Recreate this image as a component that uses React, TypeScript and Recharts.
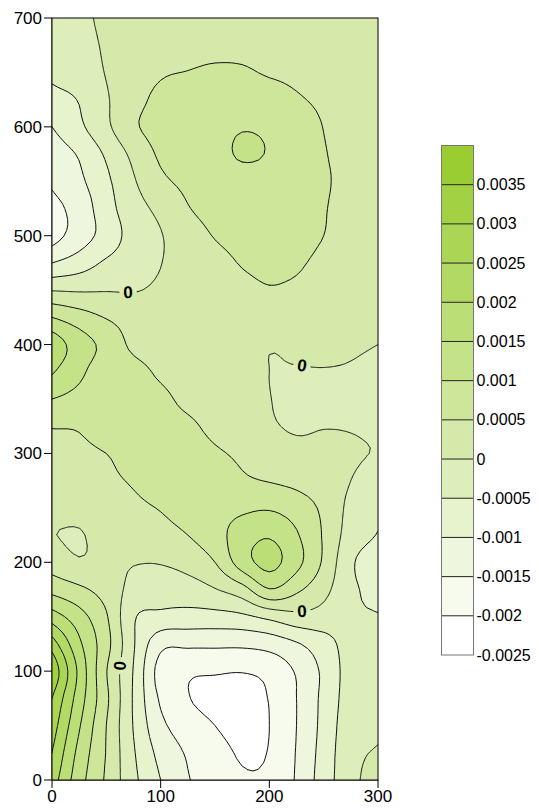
import React from 'react'
import { ScatterChart, Scatter, XAxis, YAxis } from 'recharts'

// measured grid nodes (plot units)
const gridX = [0, 25, 50, 75, 100, 125, 150, 175, 200, 225, 250, 275, 300]
const gridY = [0, 25, 50, 75, 100, 125, 150, 175, 200, 225, 250, 275, 300, 325, 350, 375, 400, 425, 450, 475, 500, 525, 550, 575, 600, 625, 650, 675, 700]

// field values on the grid, one row per gridY entry, in multiples of LEVEL_STEP
const LEVEL_STEP = 0.0005
const field = [
  [4.5, 2.4, 0.85, -0.75, -2.0, -2.95, -3.3, -3.85, -3.8, -2.9, -1.5, -0.3, 0.5],
  [5.0, 2.7, 0.95, -0.9, -2.3, -3.1, -3.5, -4.15, -3.95, -2.95, -1.6, -0.3, 0.1],
  [5.5, 3.1, 1.0, -1.05, -2.75, -3.5, -4.0, -4.5, -4.0, -3.0, -1.7, -0.4, -0.2],
  [6.0, 3.5, 1.2, -1.1, -3.15, -3.95, -4.3, -4.55, -3.95, -3.0, -1.75, -0.55, -0.4],
  [6.8, 3.75, 1.05, -1.05, -3.4, -3.85, -3.9, -3.95, -3.7, -2.9, -1.8, -0.6, -0.5],
  [5.5, 3.2, 1.35, -0.9, -2.7, -2.8, -2.8, -2.8, -2.6, -2.1, -1.4, -0.65, -0.7],
  [3.5, 2.4, 1.1, -0.9, -1.25, -1.35, -1.35, -1.2, -0.75, -0.3, -0.4, -0.85, -0.95],
  [1.7, 1.2, 0.6, -0.3, -0.5, -0.45, -0.05, 0.6, 1.95, 1.2, 0.3, -0.8, -1.3],
  [0.55, 0.1, 0.25, 0.05, 0.05, 0.35, 1.0, 2.5, 3.3, 2.3, 0.85, -0.85, -1.5],
  [0.02, -0.06, 0.35, 0.5, 0.7, 1.0, 1.6, 2.5, 2.9, 2.1, 0.9, -0.45, -1.05],
  [0.3, 0.3, 0.5, 0.8, 1.05, 1.35, 1.6, 1.8, 1.9, 1.5, 0.8, -0.25, -0.75],
  [0.5, 0.55, 0.8, 1.1, 1.45, 1.6, 1.55, 1.15, 0.95, 0.75, 0.45, 0.0, -0.45],
  [0.7, 0.75, 1.0, 1.4, 1.55, 1.5, 1.15, 0.8, 0.45, 0.25, 0.2, 0.1, -0.05],
  [1.05, 1.1, 1.6, 1.5, 1.35, 1.2, 0.7, 0.35, 0.1, -0.1, -0.03, -0.05, -0.15],
  [2.0, 1.7, 1.5, 1.3, 1.2, 0.75, 0.45, 0.2, 0.02, -0.25, -0.35, -0.3, -0.3],
  [3.1, 2.2, 1.5, 1.3, 0.85, 0.55, 0.4, 0.2, 0.0, -0.05, -0.05, -0.1, -0.3],
  [3.6, 2.5, 1.7, 0.8, 0.55, 0.45, 0.4, 0.3, 0.05, 0.15, 0.25, 0.15, 0.0],
  [2.0, 1.45, 0.95, 0.6, 0.45, 0.4, 0.45, 0.55, 0.5, 0.35, 0.3, 0.3, 0.2],
  [-0.05, -0.1, -0.05, -0.05, 0.15, 0.35, 0.6, 0.8, 0.95, 0.85, 0.65, 0.5, 0.35],
  [-2.0, -1.5, -0.85, -0.45, -0.02, 0.35, 0.7, 1.05, 1.15, 1.1, 0.8, 0.6, 0.45],
  [-3.4, -2.5, -1.6, -0.6, -0.05, 0.55, 1.05, 1.3, 1.4, 1.35, 1.0, 0.7, 0.5],
  [-3.3, -2.6, -1.4, -0.4, 0.25, 0.95, 1.3, 1.5, 1.6, 1.5, 1.05, 0.75, 0.55],
  [-2.85, -2.2, -1.2, -0.1, 0.8, 1.2, 1.5, 1.65, 1.7, 1.6, 1.1, 0.8, 0.6],
  [-2.5, -1.9, -0.85, 0.25, 1.15, 1.45, 1.7, 2.1, 1.95, 1.6, 1.05, 0.8, 0.6],
  [-2.0, -1.2, -0.2, 0.85, 1.35, 1.6, 1.75, 1.95, 1.85, 1.5, 0.98, 0.7, 0.55],
  [-1.3, -0.95, -0.1, 0.7, 1.2, 1.4, 1.55, 1.6, 1.45, 1.1, 0.85, 0.65, 0.55],
  [-0.85, -0.55, 0.05, 0.6, 0.92, 1.02, 1.12, 1.1, 0.92, 0.82, 0.7, 0.6, 0.5],
  [-0.8, -0.45, 0.15, 0.55, 0.7, 0.78, 0.82, 0.82, 0.78, 0.7, 0.6, 0.55, 0.5],
  [-0.7, -0.35, 0.3, 0.5, 0.6, 0.65, 0.7, 0.7, 0.65, 0.6, 0.55, 0.5, 0.5],
]

// colour scale, lowest band first
const bandEdges = [-0.0025, -0.002, -0.0015, -0.001, -0.0005, 0, 0.0005, 0.001, 0.0015, 0.002, 0.0025, 0.003, 0.0035, 0.004]
const bandColors = ['#ffffff', '#f7fbee', '#eef7dd', '#e6f3cc', '#ddeebb', '#d5eaaa', '#cde699', '#c4e287', '#bcde76', '#b3d965', '#abd554', '#a2d143', '#9acd32']

const xTicks = [0, 100, 200, 300]
const yTicks = [0, 100, 200, 300, 400, 500, 600, 700]

// spots where the zero contour carries its label
const zeroLabelSpots = [
  { x: 72, y: 447 },
  { x: 228, y: 381 },
  { x: 228, y: 156 },
  { x: 64, y: 106 },
]

const W = 531
const H = 802
const FONT = '"Liberation Sans", Arial, Helvetica, sans-serif'

type Pt = [number, number]

// ---- Catmull-Rom resampling of the grid ----
const FINE = 5
const dxG = gridX[1] - gridX[0]
const dyG = gridY[1] - gridY[0]

function cr(p0: number, p1: number, p2: number, p3: number, t: number) {
  return 0.5 * (2 * p1 + (p2 - p0) * t + (2 * p0 - 5 * p1 + 4 * p2 - p3) * t * t + (3 * p1 - p0 - 3 * p2 + p3) * t * t * t)
}
function pick(a: number[], k: number) {
  const n = a.length
  if (k < 0) return 2 * a[0] - a[1]
  if (k > n - 1) return 2 * a[n - 1] - a[n - 2]
  return a[k]
}
function sample1(a: number[], g: number) {
  let i = Math.floor(g)
  if (i > a.length - 2) i = a.length - 2
  if (i < 0) i = 0
  return cr(pick(a, i - 1), a[i], a[i + 1], pick(a, i + 2), g - i)
}

const fineX: number[] = []
for (let x = gridX[0]; x <= gridX[gridX.length - 1] + 1e-6; x += FINE) fineX.push(x)
const fineY: number[] = []
for (let y = gridY[0]; y <= gridY[gridY.length - 1] + 1e-6; y += FINE) fineY.push(y)

const colsAtX = fineX.map(x => field.map(row => sample1(row, (x - gridX[0]) / dxG)))
const fineVals = fineY.map(y => fineX.map((_, i) => sample1(colsAtX[i], (y - gridY[0]) / dyG)))

// ---- marching squares, joined into chains ----
function isolines(vals: number[][], xs: number[], ys: number[], level: number): Pt[][] {
  const pos = new Map<string, Pt>()
  const segs: [string, string][] = []
  const ny = vals.length
  const nx = vals[0].length
  const hk = (i: number, j: number) => {
    const k = 'h' + i + ',' + j
    if (!pos.has(k)) {
      const a = vals[j][i], b = vals[j][i + 1], t = (level - a) / (b - a)
      pos.set(k, [xs[i] + t * (xs[i + 1] - xs[i]), ys[j]])
    }
    return k
  }
  const vk = (i: number, j: number) => {
    const k = 'v' + i + ',' + j
    if (!pos.has(k)) {
      const a = vals[j][i], b = vals[j + 1][i], t = (level - a) / (b - a)
      pos.set(k, [xs[i], ys[j] + t * (ys[j + 1] - ys[j])])
    }
    return k
  }
  for (let j = 0; j < ny - 1; j++) {
    for (let i = 0; i < nx - 1; i++) {
      const v0 = vals[j][i], v1 = vals[j][i + 1], v2 = vals[j + 1][i + 1], v3 = vals[j + 1][i]
      const c = (v0 >= level ? 1 : 0) | (v1 >= level ? 2 : 0) | (v2 >= level ? 4 : 0) | (v3 >= level ? 8 : 0)
      if (c === 0 || c === 15) continue
      const B = () => hk(i, j), T = () => hk(i, j + 1), L = () => vk(i, j), R = () => vk(i + 1, j)
      const add = (a: string, b: string) => segs.push([a, b])
      const mid = (v0 + v1 + v2 + v3) / 4 >= level
      switch (c) {
        case 1: case 14: add(L(), B()); break
        case 2: case 13: add(B(), R()); break
        case 3: case 12: add(L(), R()); break
        case 4: case 11: add(R(), T()); break
        case 6: case 9: add(B(), T()); break
        case 7: case 8: add(L(), T()); break
        case 5:
          if (mid) { add(L(), T()); add(B(), R()) } else { add(L(), B()); add(R(), T()) }
          break
        case 10:
          if (mid) { add(L(), B()); add(R(), T()) } else { add(B(), R()); add(L(), T()) }
          break
      }
    }
  }
  const adj = new Map<string, number[]>()
  segs.forEach((s, n) => {
    for (const k of s) {
      const l = adj.get(k)
      if (l) l.push(n)
      else adj.set(k, [n])
    }
  })
  const used = new Array(segs.length).fill(false)
  const walk = (start: string, push: (k: string) => void) => {
    let cur = start
    for (;;) {
      const nxt = (adj.get(cur) || []).find(n => !used[n])
      if (nxt === undefined) break
      used[nxt] = true
      const s = segs[nxt]
      cur = s[0] === cur ? s[1] : s[0]
      push(cur)
    }
  }
  const out: Pt[][] = []
  for (let n = 0; n < segs.length; n++) {
    if (used[n]) continue
    used[n] = true
    const chain = [segs[n][0], segs[n][1]]
    walk(segs[n][1], k => chain.push(k))
    if (chain[chain.length - 1] !== chain[0]) walk(segs[n][0], k => chain.unshift(k))
    out.push(chain.map(k => pos.get(k) as Pt))
  }
  return out
}

// padded copy so every filled region closes along the frame
const PAD = -1000
const padX = [fineX[0] - FINE, ...fineX, fineX[fineX.length - 1] + FINE]
const padY = [fineY[0] - FINE, ...fineY, fineY[fineY.length - 1] + FINE]
const padVals = padY.map((_, j) =>
  padX.map((_, i) => (j === 0 || i === 0 || j === padY.length - 1 || i === padX.length - 1 ? PAD : fineVals[j - 1][i - 1]))
)

const levels = bandEdges.slice(1, -1).map(v => Math.round((v / LEVEL_STEP) * 1e6) / 1e6)
const fillRings = levels.map(l => isolines(padVals, padX, padY, l))
const lineChains = levels.map(l => isolines(fineVals, fineX, fineY, l))

// labels sit on the nearest point of the zero contour, turned along it
const zeroIdx = levels.indexOf(0)
const zeroChains = lineChains[zeroIdx]
const labelMarks = zeroLabelSpots.map(s => {
  let best = { d: Infinity, c: 0, k: 0 }
  zeroChains.forEach((ch, c) =>
    ch.forEach((p, k) => {
      const d = (p[0] - s.x) ** 2 + (p[1] - s.y) ** 2
      if (d < best.d) best = { d, c, k }
    })
  )
  const ch = zeroChains[best.c]
  const a = ch[Math.max(0, best.k - 2)]
  const b = ch[Math.min(ch.length - 1, best.k + 2)]
  let ang = (Math.atan2(-(b[1] - a[1]), b[0] - a[0]) * 180) / Math.PI
  if (ang > 90) ang -= 180
  if (ang <= -90) ang += 180
  return { x: ch[best.k][0], y: ch[best.k][1], angle: ang }
})

const GAP = 8
function densify(ch: Pt[]): Pt[] {
  const out: Pt[] = [ch[0]]
  for (let k = 1; k < ch.length; k++) {
    const a = ch[k - 1], b = ch[k]
    const n = Math.max(1, Math.ceil(Math.hypot(b[0] - a[0], b[1] - a[1])))
    for (let m = 1; m <= n; m++) out.push([a[0] + ((b[0] - a[0]) * m) / n, a[1] + ((b[1] - a[1]) * m) / n])
  }
  return out
}
function cutGaps(ch: Pt[]): Pt[][] {
  const pieces: Pt[][] = []
  let cur: Pt[] = []
  for (const p of densify(ch)) {
    const near = labelMarks.some(l => Math.hypot(p[0] - l.x, p[1] - l.y) < GAP)
    if (near) {
      if (cur.length > 1) pieces.push(cur)
      cur = []
    } else cur.push(p)
  }
  if (cur.length > 1) pieces.push(cur)
  return pieces
}
const drawnChains = lineChains.map((chs, n) => (n === zeroIdx ? chs.flatMap(cutGaps) : chs))

const scatterData = [
  ...gridY.flatMap(y => gridX.map(x => ({ x, y, kind: 'node' }))),
  ...labelMarks.map(m => ({ x: m.x, y: m.y, kind: 'label', angle: m.angle })),
]

function toPath(rings: Pt[][], X: (v: number) => number, Y: (v: number) => number, close: boolean) {
  return rings
    .map(r => r.map((p, k) => (k ? 'L' : 'M') + X(p[0]).toFixed(1) + ' ' + Y(p[1]).toFixed(1)).join('') + (close ? 'Z' : ''))
    .join('')
}

// draws the filled bands and contour lines from the pixel positions of the grid nodes
const renderField = (props: any) => {
  const pts = props.points as { x: number; y: number }[]
  const nx = gridX.length
  const ny = gridY.length
  const o = pts[0]
  const ex = pts[nx - 1]
  const ey = pts[(ny - 1) * nx]
  const sx = (ex.x - o.x) / (gridX[nx - 1] - gridX[0])
  const sy = (ey.y - o.y) / (gridY[ny - 1] - gridY[0])
  const X = (v: number) => o.x + (v - gridX[0]) * sx
  const Y = (v: number) => o.y + (v - gridY[0]) * sy
  const x0 = X(gridX[0]), x1 = X(gridX[nx - 1]), y0 = Y(gridY[ny - 1]), y1 = Y(gridY[0])
  return (
    <g>
      <defs>
        <clipPath id="field-clip">
          <rect x={x0} y={y0} width={x1 - x0} height={y1 - y0} />
        </clipPath>
      </defs>
      <g clipPath="url(#field-clip)">
        <rect x={x0} y={y0} width={x1 - x0} height={y1 - y0} fill={bandColors[0]} />
        {fillRings.map((rings, n) => (
          <path key={'f' + n} d={toPath(rings, X, Y, true)} fill={bandColors[n + 1]} fillRule="evenodd" stroke="none" />
        ))}
        {drawnChains.map((chs, n) => (
          <path key={'l' + n} d={toPath(chs, X, Y, false)} fill="none" stroke="#111" strokeWidth={1} strokeLinejoin="round" strokeLinecap="round" />
        ))}
      </g>
      <rect x={x0} y={y0} width={x1 - x0} height={y1 - y0} fill="none" stroke="#000" strokeWidth={1} />
    </g>
  )
}

const renderMark = (p: any) => {
  const d = p.payload || p
  if (d.kind !== 'label') return <g />
  return (
    <text
      x={p.cx}
      y={p.cy}
      textAnchor="middle"
      dominantBaseline="central"
      fontSize={17}
      fontWeight={700}
      fill="#000"
      transform={`rotate(${d.angle.toFixed(1)} ${p.cx} ${p.cy})`}
    >
      {String(levels[zeroIdx] * LEVEL_STEP)}
    </text>
  )
}

function ColorBar() {
  const left = 433.5
  const top = 137.5
  const w = 32
  const h = 509.5
  const n = bandColors.length
  const cell = h / n
  return (
    <svg width={W} height={H} style={{ position: 'absolute', left: 0, top: 0, pointerEvents: 'none', overflow: 'visible' }}>
      {bandColors.map((c, k) => (
        <rect key={'c' + k} x={left} y={top + h - (k + 1) * cell} width={w} height={cell} fill={c} />
      ))}
      {bandEdges.slice(1, -1).map((_, k) => (
        <line key={'s' + k} x1={left} x2={left + w} y1={top + h - (k + 1) * cell} y2={top + h - (k + 1) * cell} stroke="#222" strokeWidth={1} />
      ))}
      <rect x={left} y={top} width={w} height={h} fill="none" stroke="#777" strokeWidth={1} />
      {bandEdges.slice(0, -1).map((v, k) => (
        <text key={'t' + k} x={left + w + 3} y={top + h - k * cell} dominantBaseline="central" fontSize={16} fill="#000">
          {String(v)}
        </text>
      ))}
    </svg>
  )
}

export default function App() {
  return (
    <div style={{ position: 'relative', width: W, height: H, fontFamily: FONT }}>
      <ScatterChart width={W} height={H} margin={{ top: 10, right: 161, bottom: 0, left: 0 }}>
        <XAxis type="number" dataKey="x" domain={[0, 300]} ticks={xTicks} interval={0} tickSize={8} height={30} stroke="#000" tick={{ fill: '#000', fontSize: 17 }} />
        <XAxis xAxisId="top" orientation="top" type="number" dataKey="x" domain={[0, 300]} ticks={xTicks} interval={0} tickSize={8} height={0} stroke="#000" tick={false} />
        <YAxis type="number" dataKey="y" domain={[0, 700]} ticks={yTicks} interval={0} tickSize={8} width={44} stroke="#000" tick={{ fill: '#000', fontSize: 17 }} />
        <YAxis yAxisId="right" orientation="right" type="number" dataKey="y" domain={[0, 700]} ticks={yTicks} interval={0} tickSize={8} width={0} stroke="#000" tick={false} />
        <Scatter data={scatterData} line={renderField} shape={renderMark} isAnimationActive={false} />
      </ScatterChart>
      <ColorBar />
    </div>
  )
}
